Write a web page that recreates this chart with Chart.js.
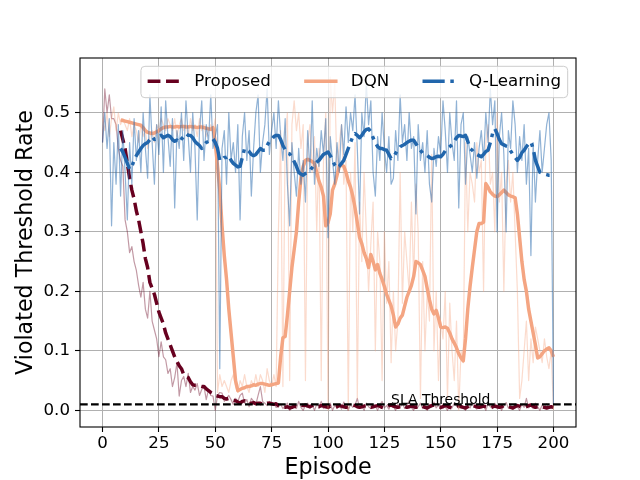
<!DOCTYPE html>
<html><head><meta charset="utf-8">
<script src="https://cdn.jsdelivr.net/npm/chart.js@4.4.1/dist/chart.umd.min.js"></script>
<style>html,body{margin:0;padding:0;background:#fff;}canvas{display:block;}</style>
</head><body>
<canvas id="c" width="640" height="480"></canvas>
<script>
// ---------- data ----------
const episodes = Array.from({length: 201}, (_, i) => i);
const SMOOTH_START = 8;
const SLA = 0.01;
const SLA_LABEL = 'SLA Threshold';
const SLA_LABEL_X = 150;
const xTicksStep = 25;
const yTicksStep = 0.1;

const proposedRaw = [
0.45,0.54,0.50,0.53,0.49,0.49,0.48,0.44,0.42,0.41,
0.32,0.30,0.265,0.275,0.25,0.235,0.21,0.19,0.215,0.17,
0.155,0.20,0.15,0.135,0.12,0.09,0.115,0.09,0.085,0.062,
0.07,0.04,0.055,0.08,0.024,0.05,0.057,0.04,0.062,0.03,
0.04,0.034,0.045,0.025,0.035,0.04,0.018,0.035,0.025,0.024,
0.0,0.025,0.03,0.029,0.015,0.02,0.025,0.018,0.01,0.02,
0.015,0.025,0.029,0.012,0.018,0.006,0.02,0.015,0.01,0.025,
0.04,0.015,0.012,0.008,0.015,0.01,0.012,0.005,0.006,0.01,
0.003,0.008,0.012,0.0,0.006,0.01,0.003,0.015,0.005,0.0,
0.008,0.012,0.004,0.009,0.0,0.01,0.006,0.015,0.003,0.008,
0.005,0.012,0.0,0.008,0.004,0.01,0.002,0.014,0.006,0.0,
0.01,0.005,0.009,0.02,0.004,0.008,0.0,0.012,0.006,0.003,
0.01,0.007,0.0,0.009,0.015,0.004,0.008,0.002,0.011,0.006,
0.0,0.01,0.005,0.012,0.003,0.008,0.016,0.004,0.0,0.009,
0.006,0.012,0.003,0.008,0.0,0.01,0.005,0.014,0.004,0.009,
0.002,0.011,0.006,0.0,0.01,0.004,0.012,0.007,0.003,0.01,
0.005,0.0,0.009,0.004,0.013,0.006,0.002,0.01,0.005,0.008,
0.0,0.011,0.006,0.003,0.012,0.005,0.009,0.0,0.007,0.013,
0.004,0.008,0.002,0.011,0.006,0.0,0.01,0.005,0.02,0.004,
0.008,0.003,0.012,0.006,0.0,0.009,0.005,0.011,0.004,0.007,
0.006];

const proposedSmooth = [
0.47,0.455,0.44,0.415,0.39,0.37,0.355,0.335,0.32,0.30,
0.28,0.255,0.24,0.215,0.205,0.195,0.18,0.165,0.155,0.145,
0.13,0.12,0.11,0.10,0.09,0.082,0.075,0.07,0.06,0.057,
0.055,0.048,0.043,0.042,0.042,0.041,0.04,0.04,0.036,0.033,
0.03,0.028,0.025,0.024,0.023,0.023,0.02,0.019,0.02,0.019,
0.017,0.016,0.014,0.012,0.015,0.016,0.013,0.011,0.012,0.013,
0.011,0.012,0.012,0.01,0.011,0.012,0.012,0.011,0.01,0.011,
0.008,0.007,0.005,0.005,0.006,0.004,0.005,0.007,0.006,0.008,
0.009,0.008,0.009,0.007,0.006,0.008,0.009,0.007,0.006,0.008,
0.007,0.006,0.005,0.007,0.006,0.005,0.006,0.008,0.007,0.006,
0.005,0.006,0.008,0.009,0.008,0.006,0.005,0.006,0.007,0.008,
0.006,0.005,0.006,0.007,0.008,0.007,0.005,0.004,0.006,0.008,
0.009,0.007,0.006,0.005,0.006,0.008,0.007,0.005,0.006,0.007,
0.006,0.005,0.007,0.008,0.007,0.005,0.004,0.006,0.008,0.009,
0.008,0.006,0.005,0.006,0.008,0.007,0.005,0.004,0.006,0.007,
0.008,0.006,0.005,0.004,0.006,0.008,0.009,0.007,0.006,0.005,
0.006,0.007,0.006,0.005,0.004,0.006,0.007,0.006,0.005,0.006,
0.008,0.007,0.006,0.005,0.004,0.006,0.008,0.007,0.005,0.004,
0.006,0.008,0.009,0.007,0.005,0.006,0.007,0.006,0.005,0.004,
0.005,0.006,0.005];

const dqnRaw = [
0.49,0.47,0.50,0.46,0.49,0.51,0.47,0.50,0.48,0.49,
0.48,0.47,0.49,0.46,0.48,0.47,0.45,0.48,0.46,0.47,
0.44,0.46,0.47,0.45,0.48,0.47,0.49,0.48,0.47,0.49,
0.48,0.47,0.49,0.46,0.48,0.49,0.47,0.48,0.46,0.49,
0.47,0.48,0.46,0.49,0.47,0.48,0.46,0.47,0.48,0.47,
0.49,0.03,0.06,0.04,0.05,0.04,0.03,0.05,0.06,0.04,
0.03,0.05,0.04,0.06,0.04,0.03,0.05,0.04,0.06,0.04,
0.06,0.05,0.03,0.07,0.05,0.04,0.06,0.04,0.30,0.47,
0.04,0.46,0.50,0.05,0.48,0.52,0.47,0.50,0.44,0.48,
0.05,0.45,0.48,0.40,0.46,0.30,0.44,0.05,0.42,0.50,
0.0,0.56,0.50,0.55,0.40,0.45,0.48,0.38,0.42,0.0,
0.40,0.30,0.45,0.02,0.35,0.25,0.40,0.30,0.20,0.28,
0.35,0.10,0.30,0.25,0.05,0.30,0.18,0.25,0.08,0.20,
0.10,0.15,0.40,0.18,0.30,0.25,0.20,0.35,0.22,0.38,
0.30,0.02,0.25,0.10,0.20,0.15,0.43,0.10,0.20,0.05,
0.15,0.12,0.20,0.02,0.18,0.10,0.05,0.15,0.0,0.10,
0.08,0.45,0.30,0.40,0.38,0.35,0.45,0.40,0.42,0.20,
0.45,0.48,0.38,0.40,0.30,0.50,0.35,0.40,0.20,0.38,
0.42,0.35,0.40,0.30,0.20,0.02,0.05,0.10,0.15,0.05,
0.12,0.08,0.14,0.12,0.10,0.08,0.12,0.09,0.07,0.10,
0.0];

const dqnSmooth = [
0.488,0.487,0.486,0.485,0.484,0.483,0.482,0.481,0.48,0.479,
0.475,0.47,0.467,0.466,0.465,0.466,0.468,0.47,0.473,0.475,
0.476,0.476,0.477,0.476,0.476,0.477,0.476,0.477,0.477,0.476,
0.476,0.477,0.476,0.476,0.475,0.476,0.476,0.475,0.474,0.473,
0.472,0.475,0.45,0.41,0.37,0.31,0.26,0.22,0.17,0.13,
0.09,0.05,0.033,0.035,0.037,0.038,0.04,0.04,0.041,0.043,
0.042,0.044,0.045,0.045,0.044,0.043,0.042,0.043,0.044,0.045,
0.046,0.09,0.122,0.124,0.16,0.20,0.24,0.27,0.30,0.35,
0.39,0.41,0.42,0.422,0.42,0.418,0.415,0.40,0.385,0.375,
0.36,0.31,0.315,0.33,0.37,0.38,0.395,0.41,0.412,0.41,
0.40,0.385,0.375,0.36,0.34,0.315,0.29,0.28,0.265,0.255,
0.24,0.262,0.25,0.236,0.245,0.23,0.22,0.208,0.195,0.185,
0.175,0.16,0.14,0.145,0.155,0.16,0.175,0.19,0.2,0.21,
0.225,0.25,0.248,0.245,0.235,0.225,0.205,0.186,0.17,0.162,
0.168,0.155,0.14,0.139,0.14,0.138,0.13,0.12,0.113,0.105,
0.095,0.088,0.083,0.12,0.17,0.208,0.24,0.27,0.30,0.314,
0.314,0.316,0.381,0.375,0.367,0.363,0.36,0.359,0.362,0.366,
0.37,0.366,0.362,0.36,0.359,0.357,0.33,0.29,0.25,0.22,
0.2,0.17,0.15,0.13,0.11,0.088,0.09,0.095,0.1,0.103,
0.105,0.1,0.09];

const qRaw = [
0.45,0.50,0.44,0.49,0.31,0.45,0.38,0.48,0.36,0.47,
0.40,0.32,0.45,0.38,0.49,0.42,0.47,0.40,0.50,0.44,
0.39,0.53,0.45,0.38,0.48,0.43,0.51,0.40,0.52,0.46,
0.41,0.49,0.34,0.47,0.44,0.50,0.42,0.52,0.46,0.40,
0.50,0.44,0.32,0.47,0.52,0.42,0.48,0.45,0.53,0.44,
0.46,0.48,0.07,0.44,0.47,0.38,0.50,0.42,0.45,0.40,
0.48,0.32,0.46,0.50,0.42,0.47,0.36,0.44,0.50,0.53,
0.40,0.45,0.48,0.54,0.43,0.47,0.50,0.44,0.52,0.46,
0.42,0.49,0.38,0.31,0.45,0.40,0.36,0.44,0.38,0.42,
0.35,0.47,0.40,0.52,0.38,0.44,0.41,0.47,0.43,0.49,
0.29,0.46,0.42,0.38,0.45,0.40,0.48,0.43,0.51,0.45,
0.50,0.47,0.53,0.44,0.33,0.50,0.46,0.55,0.48,0.52,
0.40,0.36,0.46,0.42,0.50,0.44,0.40,0.46,0.38,0.39,
0.47,0.42,0.53,0.45,0.48,0.42,0.50,0.44,0.46,0.33,
0.48,0.42,0.45,0.40,0.47,0.38,0.35,0.44,0.41,0.46,
0.43,0.52,0.47,0.40,0.50,0.45,0.42,0.52,0.34,0.48,
0.50,0.38,0.46,0.43,0.40,0.45,0.39,0.44,0.47,0.42,
0.50,0.45,0.54,0.48,0.52,0.30,0.46,0.50,0.43,0.30,
0.47,0.44,0.52,0.48,0.40,0.46,0.42,0.48,0.38,0.44,
0.26,0.45,0.35,0.42,0.47,0.40,0.44,0.48,0.50,0.42,
0.01];

const qSmooth = [
0.44,0.434,0.425,0.415,0.405,0.41,0.42,0.428,0.434,0.44,
0.445,0.448,0.45,0.455,0.46,0.455,0.456,0.46,0.462,0.458,
0.46,0.462,0.46,0.455,0.452,0.454,0.45,0.456,0.46,0.465,
0.462,0.462,0.458,0.452,0.448,0.445,0.44,0.446,0.45,0.452,
0.455,0.456,0.45,0.44,0.42,0.42,0.425,0.425,0.428,0.42,
0.415,0.412,0.409,0.41,0.425,0.44,0.438,0.435,0.43,0.428,
0.43,0.435,0.44,0.437,0.437,0.445,0.452,0.455,0.46,0.462,
0.462,0.455,0.445,0.438,0.432,0.431,0.425,0.418,0.41,0.40,
0.397,0.395,0.398,0.40,0.403,0.408,0.413,0.417,0.42,0.425,
0.43,0.432,0.434,0.428,0.42,0.412,0.407,0.41,0.415,0.42,
0.43,0.44,0.45,0.46,0.465,0.462,0.458,0.462,0.468,0.472,
0.473,0.468,0.458,0.45,0.443,0.44,0.44,0.438,0.437,0.43,
0.423,0.425,0.432,0.438,0.443,0.445,0.447,0.45,0.452,0.454,
0.454,0.448,0.442,0.437,0.432,0.43,0.428,0.425,0.423,0.424,
0.426,0.427,0.426,0.43,0.436,0.44,0.443,0.446,0.452,0.458,
0.462,0.461,0.46,0.462,0.452,0.44,0.437,0.432,0.43,0.428,
0.426,0.43,0.435,0.437,0.45,0.465,0.473,0.465,0.455,0.448,
0.446,0.444,0.443,0.436,0.43,0.425,0.42,0.425,0.433,0.437,
0.443,0.448,0.451,0.44,0.42,0.41,0.40,0.398,0.397,0.396,
0.395,0.395,0.393];

// ---------- styles ----------
const C_PROP = '#67001f', C_DQN = '#f4a582', C_Q = '#2166ac';
const FONT = '"DejaVu Sans", sans-serif';
const LW = 3.47;
const DASH_PROP = [12.8, 5.6];
const DASH_Q = [22.2, 5.6, 3.5, 5.6];

function pts(arr, start) { return arr.map((v, i) => ({x: episodes[start + i], y: v})); }

const legendItems = [
  {label: 'Proposed', color: C_PROP, dash: DASH_PROP},
  {label: 'DQN', color: C_DQN, dash: []},
  {label: 'Q-Learning', color: C_Q, dash: DASH_Q}
];

const overlay = {
  id: 'overlay',
  afterDatasetsDraw(chart) {
    const {ctx, chartArea: a, scales: {x, y}} = chart;
    const yy = y.getPixelForValue(SLA);
    ctx.save();
    ctx.beginPath(); ctx.rect(a.left, a.top, a.right - a.left, a.bottom - a.top); ctx.clip();
    ctx.strokeStyle = '#000'; ctx.lineWidth = 2.08; ctx.setLineDash([7.7, 3.3]); ctx.lineCap = 'butt';
    ctx.beginPath(); ctx.moveTo(a.left, yy); ctx.lineTo(a.right, yy); ctx.stroke();
    ctx.restore();
    ctx.save();
    ctx.font = '13.9px ' + FONT; ctx.fillStyle = '#000';
    ctx.textAlign = 'center'; ctx.textBaseline = 'alphabetic';
    ctx.fillText(SLA_LABEL, x.getPixelForValue(SLA_LABEL_X), yy - 0.5);
    ctx.restore();
  },
  afterDraw(chart) {
    const {ctx, chartArea: a} = chart;
    ctx.save();
    ctx.strokeStyle = '#000'; ctx.lineWidth = 1.1; ctx.setLineDash([]);
    ctx.strokeRect(a.left, a.top, a.right - a.left, a.bottom - a.top);
    // legend
    const fs = 16.67, hl = 33.3, hp = 13.3, cs = 33.3, bp = 6.7, pad = 8.3;
    ctx.font = fs + 'px ' + FONT;
    const widths = legendItems.map(it => ctx.measureText(it.label).width);
    let total = bp * 2;
    widths.forEach((w, i) => { total += hl + hp + w + (i < widths.length - 1 ? cs : 0); });
    const bx1 = a.right - pad, bx0 = bx1 - total, by0 = a.top + pad, by1 = by0 + 31.4;
    const r = 4;
    ctx.beginPath();
    ctx.moveTo(bx0 + r, by0); ctx.lineTo(bx1 - r, by0); ctx.quadraticCurveTo(bx1, by0, bx1, by0 + r);
    ctx.lineTo(bx1, by1 - r); ctx.quadraticCurveTo(bx1, by1, bx1 - r, by1);
    ctx.lineTo(bx0 + r, by1); ctx.quadraticCurveTo(bx0, by1, bx0, by1 - r);
    ctx.lineTo(bx0, by0 + r); ctx.quadraticCurveTo(bx0, by0, bx0 + r, by0);
    ctx.closePath();
    ctx.fillStyle = 'rgba(255,255,255,0.8)'; ctx.fill();
    ctx.strokeStyle = '#cccccc'; ctx.lineWidth = 1; ctx.stroke();
    const cy = (by0 + by1) / 2 - 0.7;
    let cx = bx0 + bp;
    legendItems.forEach((it, i) => {
      ctx.strokeStyle = it.color; ctx.lineWidth = LW; ctx.setLineDash(it.dash);
      ctx.lineCap = it.dash.length ? 'butt' : 'square';
      ctx.beginPath(); ctx.moveTo(cx + (it.dash.length ? 0 : 1.7), cy); ctx.lineTo(cx + hl - (it.dash.length ? 0 : 1.7), cy); ctx.stroke();
      ctx.setLineDash([]);
      ctx.fillStyle = '#000'; ctx.textAlign = 'left'; ctx.textBaseline = 'middle';
      ctx.fillText(it.label, cx + hl + hp, cy);
      cx += hl + hp + widths[i] + cs;
    });
    ctx.restore();
  }
};

Chart.defaults.font.family = FONT;
Chart.defaults.color = '#000';

new Chart(document.getElementById('c'), {
  type: 'line',
  data: {
    datasets: [
      {label: 'Q-Learning', data: pts(qSmooth, SMOOTH_START), borderColor: C_Q, borderWidth: LW, borderDash: DASH_Q, borderCapStyle: 'butt', order: 0},
      {label: 'Q-Learning raw', data: pts(qRaw, 0), borderColor: 'rgba(33,102,172,0.5)', borderWidth: 1.2, order: 1},
      {label: 'DQN', data: pts(dqnSmooth, SMOOTH_START), borderColor: C_DQN, borderWidth: LW, borderCapStyle: 'butt', order: 2},
      {label: 'DQN raw', data: pts(dqnRaw, 0), borderColor: 'rgba(244,165,130,0.4)', borderWidth: 1.2, order: 3},
      {label: 'Proposed', data: pts(proposedSmooth, SMOOTH_START), borderColor: C_PROP, borderWidth: LW, borderDash: DASH_PROP, borderCapStyle: 'butt', order: 4},
      {label: 'Proposed raw', data: pts(proposedRaw, 0), borderColor: 'rgba(103,0,31,0.4)', borderWidth: 1.2, order: 5}
    ].map(d => Object.assign({pointRadius: 0, pointHoverRadius: 0, fill: false, tension: 0, borderJoinStyle: 'round'}, d))
  },
  options: {
    responsive: false, devicePixelRatio: 1, animation: false,
    events: [],
    layout: {padding: {left: 0, right: 64, top: 58, bottom: 0}},
    plugins: {legend: {display: false}, tooltip: {enabled: false}},
    scales: {
      x: {
        type: 'linear', min: -10, max: 210,
        afterFit: s => { s.height = 53; },
        ticks: {stepSize: xTicksStep, includeBounds: false, padding: 2, font: {size: 16.67}, color: '#000', maxRotation: 0,
          callback: v => String(v)},
        grid: {color: '#b0b0b0', lineWidth: 1, drawTicks: true, tickLength: 5, tickColor: '#000', tickWidth: 1.1},
        border: {display: false},
        title: {display: true, text: 'Episode', font: {size: 22.2, lineHeight: 1}, color: '#000', padding: {top: 0, bottom: 0.6}}
      },
      y: {
        type: 'linear', min: -0.028, max: 0.592,
        afterFit: s => { s.width = 80; },
        ticks: {stepSize: yTicksStep, includeBounds: false, padding: 5, font: {size: 16.67}, color: '#000',
          callback: v => v.toFixed(1)},
        grid: {color: '#b0b0b0', lineWidth: 1, drawTicks: true, tickLength: 5, tickColor: '#000', tickWidth: 1.1},
        border: {display: false},
        title: {display: true, text: 'Violated Threshold Rate', font: {size: 22.2, lineHeight: 1}, color: '#000', padding: {top: 15.4, bottom: 0}}
      }
    }
  },
  plugins: [overlay]
});
</script>
</body></html>
